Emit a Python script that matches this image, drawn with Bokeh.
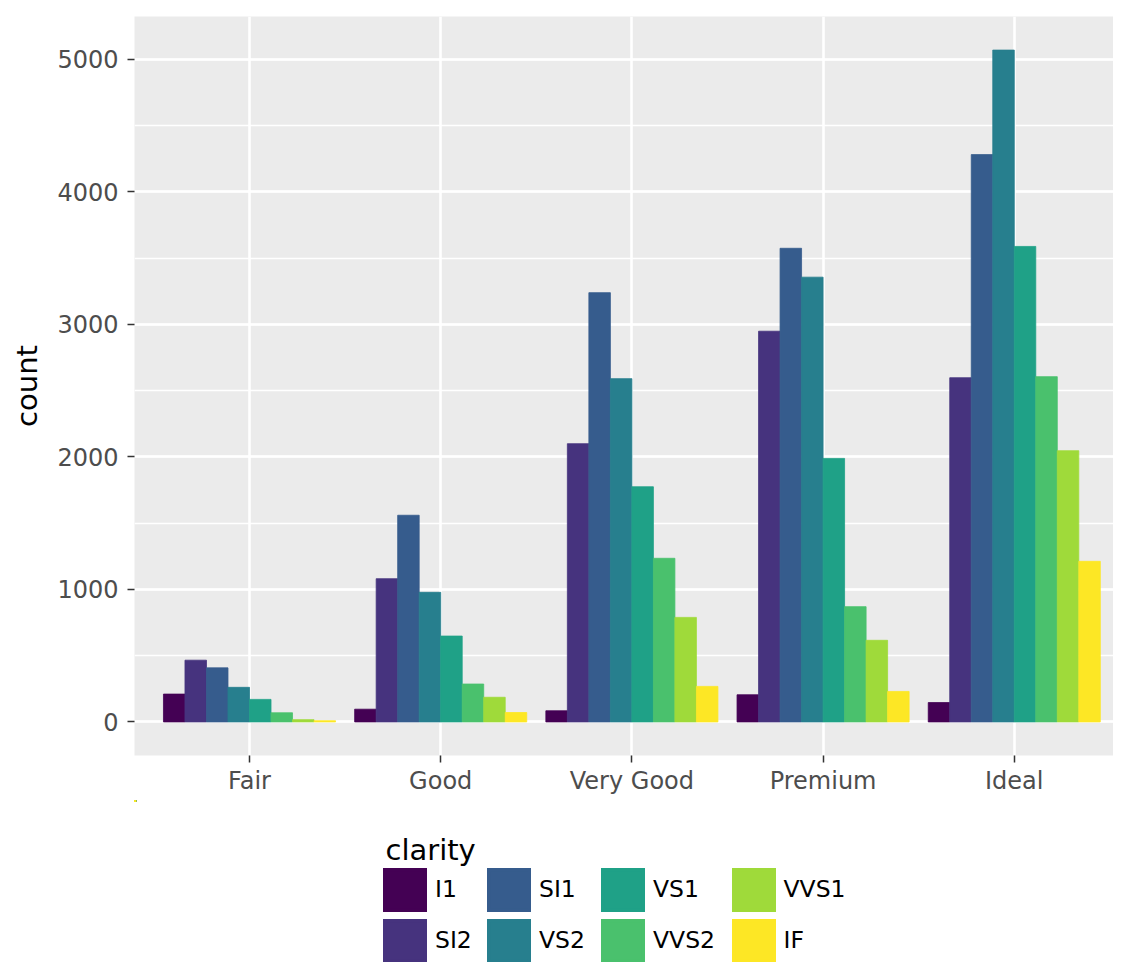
from bokeh.plotting import figure
from bokeh.layouts import column
from bokeh.models import (Range1d, FixedTicker, SingleIntervalTicker, Legend,
                          LegendItem, Label, ColumnDataSource)
from bokeh.transform import dodge
from bokeh.embed import file_html
from bokeh.resources import INLINE

cuts = ["Fair", "Good", "Very Good", "Premium", "Ideal"]
clarities = ["I1", "SI2", "SI1", "VS2", "VS1", "VVS2", "VVS1", "IF"]
colors = ["#440154", "#46337E", "#365C8D", "#277F8E",
          "#1FA187", "#4AC16D", "#9FDA3A", "#FDE725"]

I1 = [210, 96, 84, 205, 146]
SI2 = [466, 1081, 2100, 2949, 2598]
SI1 = [408, 1560, 3240, 3575, 4282]
VS2 = [261, 978, 2591, 3357, 5071]
VS1 = [170, 648, 1775, 1989, 3589]
VVS2 = [69, 286, 1235, 870, 2606]
VVS1 = [17, 186, 789, 616, 2047]
IF = [9, 71, 268, 230, 1212]
series = [I1, SI2, SI1, VS2, VS1, VVS2, VVS1, IF]

FONT = "DejaVu Sans"
TICK_COLOR = "#4D4D4D"
W = 1113
LEFT = 134

data = {"x": [i + 1 for i in range(len(cuts))]}
for name, vals in zip(clarities, series):
    data[name] = vals
src = ColumnDataSource(data)

ymax = max(max(s) for s in series)
pad = 0.05 * ymax

p = figure(width=W, height=800, output_backend="svg", toolbar_location=None,
           x_range=Range1d(0.3985, 5.519), y_range=Range1d(-pad, ymax + pad),
           min_border_left=LEFT, min_border_right=0, min_border_top=16,
           min_border_bottom=45)
p.background_fill_color = "#EBEBEB"
p.border_fill_color = "white"
p.outline_line_color = None

n = len(clarities)
bw = 0.9 / n
for i, (name, col) in enumerate(zip(clarities, colors)):
    off = -0.45 + (i + 0.5) * bw
    p.vbar(x=dodge("x", off, range=p.x_range), top=name, bottom=0,
           width=bw, source=src, fill_color=col, line_color=col, line_width=0.8)

p.xaxis.ticker = FixedTicker(ticks=data["x"])
p.xaxis.major_label_overrides = {i + 1: c for i, c in enumerate(cuts)}
p.yaxis.ticker = SingleIntervalTicker(interval=1000, num_minor_ticks=2)
p.xgrid.ticker = FixedTicker(ticks=data["x"])
for ax in (p.xaxis[0], p.yaxis[0]):
    ax.axis_line_color = None
    ax.major_tick_line_color = "#333333"
    ax.major_tick_line_width = 1.5
    ax.major_tick_out = 7
    ax.major_tick_in = 0
    ax.minor_tick_line_color = None
    ax.major_label_text_font = FONT
    ax.major_label_text_font_size = "24px"
    ax.major_label_text_color = TICK_COLOR
    ax.axis_label_text_font = FONT
    ax.axis_label_text_font_size = "29px"
    ax.axis_label_text_font_style = "normal"
    ax.axis_label_text_color = "black"
p.yaxis.major_label_standoff = 9
p.xaxis.major_label_standoff = 4
p.yaxis.axis_label = "count"
p.yaxis.axis_label_standoff = 10

p.xgrid.grid_line_color = "white"
p.xgrid.grid_line_width = 2.6
p.ygrid.grid_line_color = "white"
p.ygrid.grid_line_width = 2.6
p.ygrid.minor_grid_line_color = "white"
p.ygrid.minor_grid_line_width = 1.3

# legend panel; its frame is aligned with the main frame (starts at LEFT)
LH = 162
lf = figure(width=W, height=LH, output_backend="svg", toolbar_location=None,
            x_range=Range1d(LEFT, W), y_range=Range1d(-LH, 0),
            x_axis_location=None, y_axis_location=None,
            min_border=0, min_border_left=LEFT, min_border_right=0,
            min_border_top=0, min_border_bottom=0)
lf.outline_line_color = None
lf.grid.visible = False
lf.background_fill_color = "white"
lf.border_fill_color = "white"

# key renderers: same data, zero-size and outside this panel's visible range
leg_renderers = []
for i, (name, col) in enumerate(zip(clarities, colors)):
    off = -0.45 + (i + 0.5) * bw
    r = lf.vbar(x=dodge("x", off, range=lf.x_range), top=name, bottom=name,
                width=0, source=src, fill_color=col,
                line_color=col, line_width=3.2, line_join="miter")
    leg_renderers.append(r)

col_left = [379, 483, 597, 727.5]
for c in range(4):
    items = [LegendItem(label=clarities[2 * c + k], renderers=[leg_renderers[2 * c + k]])
             for k in range(2)]
    lg = Legend(items=items, location=(col_left[c] - LEFT, -3.5),
                orientation="vertical",
                glyph_width=51, glyph_height=51, spacing=0, label_standoff=5,
                padding=0, margin=0, border_line_color=None,
                background_fill_alpha=0, label_text_font=FONT,
                label_text_font_size="23.5px", label_text_color="black",
                label_height=20)
    lf.add_layout(lg, "center")

lf.add_layout(Label(x=385, y=-49, text="clarity", text_font=FONT,
                    text_font_size="29px", text_color="black",
                    text_baseline="alphabetic"))

layout = column(p, lf, spacing=0)
open("out.html", "w").write(file_html(layout, INLINE))
